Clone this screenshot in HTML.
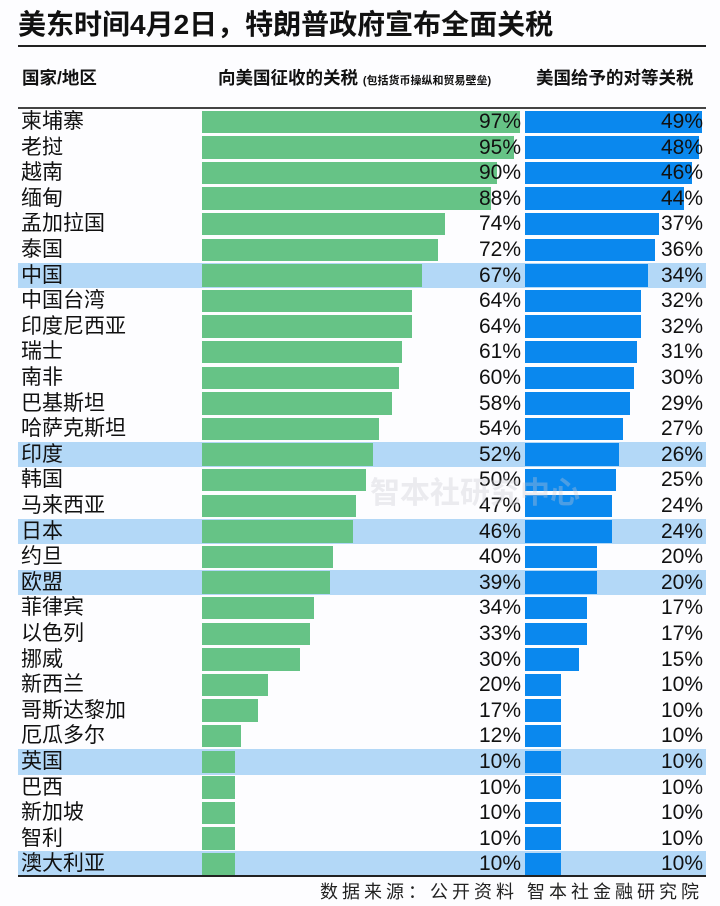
<!DOCTYPE html>
<html><head><meta charset="utf-8"><style>
body{margin:0;width:720px;height:906px;background:#fdfdff;font-family:"Liberation Sans","Noto Sans CJK SC",sans-serif;position:relative;overflow:hidden;color:#111}
.a{position:absolute}
.t{left:18px;top:3px;font-size:28px;font-weight:bold;letter-spacing:0px}
.row{position:absolute;left:18px;width:688px;height:25.6px}
.hl{background:#b3d8f7}
.nm{position:absolute;left:3px;top:0;font-size:21px;line-height:25.6px}
.g{position:absolute;left:184px;top:1.5px;height:22.5px;background:#66c386}
.b{position:absolute;left:507px;top:1.5px;height:22.5px;background:#0a88ee}
.p1{position:absolute;right:185px;top:0;font-size:21px;line-height:25.6px}
.p2{position:absolute;right:3px;top:0;font-size:21px;line-height:25.6px}
</style></head><body>
<div class="a t">美东时间4月2日，特朗普政府宣布全面关税</div>
<div class="a" style="left:18px;top:45px;width:688px;height:2px;background:#222"></div>
<div class="a" style="left:22px;top:65px;font-size:17.5px;font-weight:bold">国家/地区</div>
<div class="a" style="left:218px;top:65px;font-size:17.5px;font-weight:bold">向美国征收的关税 <span style="font-size:11px">(包括货币操纵和贸易壁垒)</span></div>
<div class="a" style="left:536px;top:65px;font-size:17.5px;font-weight:bold">美国给予的对等关税</div>
<div class="a" style="left:18px;top:107px;width:688px;height:2px;background:#444"></div>
<div id="rows"></div>
<div class="a" style="left:18px;top:875px;width:688px;height:2px;background:#222"></div>
<div class="a" style="left:370px;top:468px;font-size:30px;font-weight:bold;color:rgba(200,200,210,0.35)">智本社研究中心</div>
<div class="a" style="right:17px;top:878px;font-size:18px;letter-spacing:4px;color:#222">数据来源：公开资料 智本社金融研究院</div>
<script>
var d=[["柬埔寨",97,49],["老挝",95,48],["越南",90,46],["缅甸",88,44],["孟加拉国",74,37],["泰国",72,36],["中国",67,34,1],["中国台湾",64,32],["印度尼西亚",64,32],["瑞士",61,31],["南非",60,30],["巴基斯坦",58,29],["哈萨克斯坦",54,27],["印度",52,26,1],["韩国",50,25],["马来西亚",47,24],["日本",46,24,1],["约旦",40,20],["欧盟",39,20,1],["菲律宾",34,17],["以色列",33,17],["挪威",30,15],["新西兰",20,10],["哥斯达黎加",17,10],["厄瓜多尔",12,10],["英国",10,10,1],["巴西",10,10],["新加坡",10,10],["智利",10,10],["澳大利亚",10,10,1]];
var h="";d.forEach(function(r,i){h+='<div class="row'+(r[3]?' hl':'')+'" style="top:'+(109+i*25.6)+'px"><div class="nm">'+r[0]+'</div><div class="g" style="width:'+(r[1]*3.28)+'px"></div><div class="b" style="width:'+(r[2]*3.62)+'px"></div><div class="p1">'+r[1]+'%</div><div class="p2">'+r[2]+'%</div></div>'});
document.getElementById("rows").innerHTML=h;
</script>
</body></html>
